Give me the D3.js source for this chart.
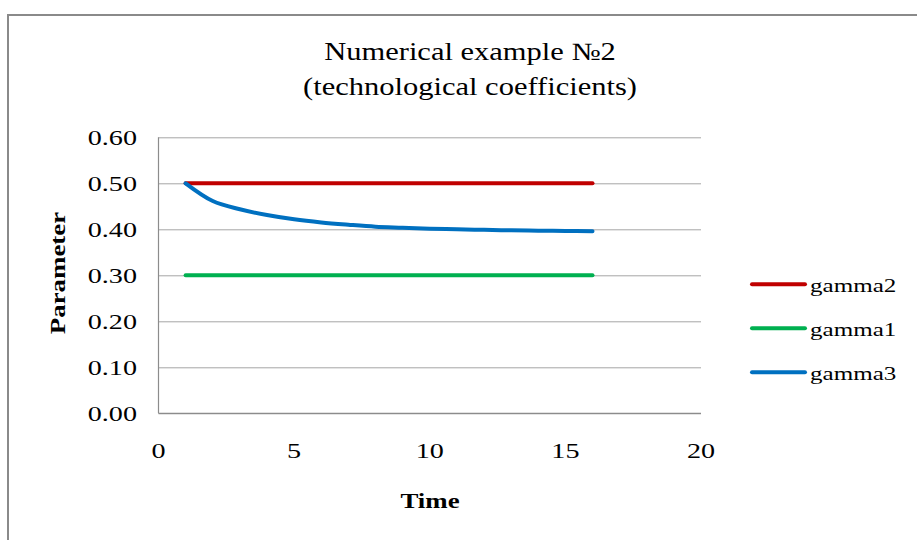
<!DOCTYPE html>
<html>
<head>
<meta charset="utf-8">
<script src="https://cdn.jsdelivr.net/npm/d3@7"></script>
<style>
  html, body { margin: 0; padding: 0; background: #fff; }
  svg { display: block; }
  text { font-family: "Liberation Serif", "Times New Roman", serif; fill: #000; }
</style>
</head>
<body>
<svg id="chart" width="917" height="540"></svg>
<script>
// Time steps
const timeSteps = [1, 2, 3, 4, 5, 6, 7, 8, 9, 10, 11, 12, 13, 14, 15, 16];
// Technological coefficients per series
const gamma1 = [0.30, 0.30, 0.30, 0.30, 0.30, 0.30, 0.30, 0.30, 0.30, 0.30, 0.30, 0.30, 0.30, 0.30, 0.30, 0.30];
const gamma2 = [0.50, 0.50, 0.50, 0.50, 0.50, 0.50, 0.50, 0.50, 0.50, 0.50, 0.50, 0.50, 0.50, 0.50, 0.50, 0.50];
const gamma3 = [0.500, 0.4615, 0.4435, 0.431, 0.4217, 0.415, 0.410, 0.4057, 0.4035, 0.4013, 0.400, 0.3988, 0.3978, 0.397, 0.3965, 0.396];
// Axis ticks
const xTicks = [0, 5, 10, 15, 20];
const yTicks = [0.00, 0.10, 0.20, 0.30, 0.40, 0.50, 0.60];
const titleLines = ["Numerical example \u21162", "(technological coefficients)"];

// Legend order and colours
const series = [
  { name: "gamma2", values: gamma2, color: "#c00000" },
  { name: "gamma1", values: gamma1, color: "#00b050" },
  { name: "gamma3", values: gamma3, color: "#0070c0" }
];

const svg = d3.select("#chart");
const STRETCH = 1.28; // glyphs are drawn wider along the baseline

// helper: text placed at (x,y), optionally rotated, widened along its baseline
function label(x, y, str, opts = {}) {
  const g = svg.append("g")
    .attr("transform", `translate(${x},${y}) rotate(${opts.rotate || 0}) scale(${opts.stretch || STRETCH},1)`);
  g.append("text")
    .attr("text-anchor", opts.anchor || "middle")
    .attr("font-size", opts.size || 22)
    .attr("font-weight", opts.weight || "normal")
    .text(str);
  return g;
}

// chart frame
svg.append("rect")
  .attr("x", 8).attr("y", 15)
  .attr("width", 1000).attr("height", 600)
  .attr("fill", "#fff")
  .attr("stroke", "#8a8a8a")
  .attr("stroke-width", 2);

const x = d3.scaleLinear().domain([0, 20]).range([158.5, 701]);
const y = d3.scaleLinear().domain([0, 0.6]).range([413.3, 137.3]);

// gridlines
svg.append("g")
  .attr("transform", `translate(${x(0)},0)`)
  .call(d3.axisLeft(y).tickValues(yTicks).tickSize(-(x(20) - x(0))).tickFormat(""))
  .call(g => g.select(".domain").remove())
  .call(g => g.selectAll(".tick line").attr("stroke", "#a6a6a6").attr("stroke-width", 1));

// axis lines
svg.append("line")
  .attr("x1", x(0)).attr("x2", x(0))
  .attr("y1", y(0.6)).attr("y2", y(0))
  .attr("stroke", "#8c8c8c").attr("stroke-width", 1.2);
svg.append("line")
  .attr("x1", x(0)).attr("x2", x(20))
  .attr("y1", y(0)).attr("y2", y(0))
  .attr("stroke", "#8c8c8c").attr("stroke-width", 1.2);

// tick labels
yTicks.forEach(v => label(137, y(v) + 7.5, d3.format(".2f")(v), { anchor: "end", size: 22 }));
xTicks.forEach(v => label(x(v), 458, String(v), { size: 22 }));

// series lines (smoothed)
const line = d3.line()
  .x((d, i) => x(timeSteps[i]))
  .y(d => y(d))
  .curve(d3.curveCatmullRom.alpha(0.5));

series.forEach(s => {
  svg.append("path")
    .datum(s.values)
    .attr("d", line)
    .attr("fill", "none")
    .attr("stroke", s.color)
    .attr("stroke-width", 4)
    .attr("stroke-linecap", "round")
    .attr("stroke-linejoin", "round");
});

// title
label(470, 60, titleLines[0], { size: 25, stretch: 1.22 });
label(470, 95, titleLines[1], { size: 25, stretch: 1.22 });

// axis titles
label(430, 508, "Time", { size: 21, weight: "bold" });
label(65, 273, "Parameter", { size: 21, weight: "bold", rotate: -90 });

// legend
series.forEach((s, i) => {
  const ly = 284.3 + i * 44;
  svg.append("line")
    .attr("x1", 752).attr("x2", 805)
    .attr("y1", ly).attr("y2", ly)
    .attr("stroke", s.color)
    .attr("stroke-width", 4)
    .attr("stroke-linecap", "round");
  label(810, ly + 7.5, s.name, { anchor: "start", size: 19, stretch: 1.32 });
});
</script>
</body>
</html>
